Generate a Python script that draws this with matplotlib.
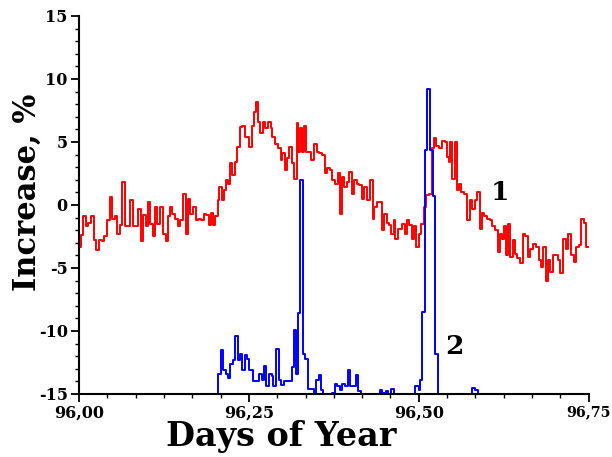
import numpy as np
import matplotlib
matplotlib.use("Agg")
from matplotlib import pyplot as plt
from matplotlib.ticker import MultipleLocator, FuncFormatter

plt.rcParams['font.family'] = 'DejaVu Serif'
plt.rcParams['font.weight'] = 'bold'
plt.rcParams['axes.unicode_minus'] = False

# step start times (minutes after day 96.00) and values, curve 1 (red)
red_min = [0, 4, 9, 15, 20, 26, 31, 37, 43, 49, 54, 60, 65, 71, 76, 81, 86, 91, 97, 103,
           109, 114, 120, 125, 131, 136, 142, 146, 151, 157, 161, 166, 172, 178, 184, 189, 193, 198, 204, 210,
           215, 221, 226, 230, 236, 241, 247, 252, 258, 264, 270, 275, 279, 285, 288, 294, 297, 303, 307, 311,
           316, 320, 324, 330, 335, 341, 346, 351, 356, 361, 366, 371, 375, 380, 384, 389, 395, 401, 406, 410,
           416, 421, 427, 431, 436, 440, 446, 451, 455, 461, 464, 468, 472, 476, 481, 487, 492, 498, 504, 509,
           515, 521, 526, 532, 537, 543, 548, 552, 558, 562, 567, 573, 578, 582, 588, 593, 599, 604, 610, 616,
           622, 625, 631, 637, 642, 646, 652, 657, 661, 667, 670, 676, 680, 685, 691, 695, 700, 706, 710, 715,
           721, 725, 730, 736, 741, 747, 752, 757, 763, 769, 775, 780, 784, 787, 791, 796, 801, 805, 810, 816,
           822, 828, 833, 839, 844, 850, 854, 859, 865, 870, 876, 882, 888, 891, 897, 901, 905, 909, 914, 919,
           924, 929, 934, 940, 946, 951, 956, 962, 968, 974, 979, 983, 989, 994, 998, 1004, 1009, 1015, 1020, 1026,
           1032, 1037, 1043, 1049, 1054, 1059, 1064, 1071, 1074, 1080]
red_val = [-3.3, -2.4, -0.9, -1.7, -1.4, -0.9, -2.8, -3.6, -2.8, -2.9, -2.5, -1.2, 0.6, -1.1, -0.9, -2.3, -1.6, 1.8, -1.7, -1.7,
           0.4, -1.7, -1.7, -0.3, -2.9, -0.8, -1.7, 0.2, -1.5, -2.5, -0.2, -1.5, -0.2, -2.3, -2.9, -0.9, -0.2, -0.7, -1.1, -1.7,
           -1.2, 0.9, -2.3, 0.5, -0.7, -0.2, -1.2, -1.1, -1.2, -0.7, -0.8, -1.6, -0.6, -1.6, -0.9, 0.4, 1.4, 0.4, 1.2, 2.0,
           1.7, 3.3, 2.4, 3.4, 4.6, 6.2, 6.3, 5.4, 5.4, 4.6, 6.3, 7.4, 8.2, 6.6, 5.7, 6.6, 6.1, 6.6, 6.1, 5.4,
           4.8, 4.5, 3.6, 4.1, 2.8, 3.7, 4.6, 3.3, 2.1, 6.5, 4.2, 6.1, 4.2, 6.3, 4.2, 4.2, 3.6, 4.8, 4.2, 4.1,
           4.0, 2.5, 2.9, 2.8, 2.0, 1.7, 2.5, -0.7, 2.2, 1.4, 1.8, 2.6, 0.9, 2.0, 1.7, 1.6, 0.5, 1.4, 0.4, 2.0,
           -1.1, -0.2, 0.2, 0.2, -2.0, -0.7, -1.4, -1.6, -2.3, -1.2, -2.7, -1.9, -1.9, -1.5, -2.3, -1.2, -1.6, -2.7, -1.7, -3.3,
           -2.3, -1.5, -0.2, 0.8, 0.9, 4.5, 5.3, 4.7, 4.5, 5.1, 5.0, 3.8, 3.4, 5.0, 2.1, 5.0, 1.2, 1.7, 1.0, 0.9,
           -1.2, 0.4, -0.3, 0.4, 1.0, -1.9, -0.6, -0.9, -1.1, -1.2, -1.7, -2.0, -3.7, -2.3, -2.7, -1.7, -4.0, -1.5, -4.1, -2.8,
           -3.9, -4.2, -4.6, -2.3, -2.5, -4.1, -3.5, -3.1, -3.3, -4.4, -4.9, -3.3, -6.0, -4.4, -5.3, -4.0, -4.0, -4.4, -5.4, -2.7,
           -3.5, -2.3, -4.0, -4.5, -3.3, -3.2, -1.1, -1.4, -3.3, -3.3]

# curve 2 (blue)
blue_min = [0, 294, 300, 305, 311, 316, 321, 326, 331, 336, 341, 346, 351, 356, 361, 368, 382, 388, 393, 397,
            402, 408, 412, 417, 423, 429, 434, 451, 455, 459, 464, 468, 474, 479, 485, 497, 502, 508, 513, 518,
            536, 542, 547, 552, 558, 564, 569, 574, 580, 586, 592, 597, 638, 642, 651, 655, 662, 667, 712, 720,
            723, 727, 733, 738, 744, 749, 755, 760, 833, 840, 845, 1080]
blue_val = [-15, -13.4, -11.5, -13.1, -13.4, -13.7, -12.6, -12.3, -10.4, -12.3, -11.8, -13.1, -11.9, -12.2, -13.1, -14.0, -13.4, -13.9, -12.8, -14.4,
            -13.4, -13.6, -14.4, -11.4, -13.9, -14.3, -14.0, -12.9, -9.9, -13.4, -8.6, 2.0, -11.8, -12.2, -14.6, -15, -13.9, -13.5, -14.7, -15,
            -14.9, -14.2, -14.4, -14.7, -14.2, -14.4, -13.1, -14.4, -14.4, -13.5, -14.8, -15, -14.7, -14.9, -14.8, -15, -14.6, -15, -14.4, -14.7,
            -13.9, -8.5, 4.4, 9.2, 4.4, 0.7, -11.8, -15, -14.5, -14.7, -15, -15]

x_ticks = [96.0, 96.25, 96.5, 96.75]
x_tick_labels = ['96,00', '96,25', '96,50', '96,75']

red_x = 96 + np.array(red_min) / 1440.0
blue_x = 96 + np.array(blue_min) / 1440.0

fig = plt.figure(figsize=(6.12, 4.57), dpi=100)
ax = fig.add_axes([0.129, 0.138, 0.833, 0.827])

ax.step(red_x, red_val, where='post', color='#ff0000', lw=1.4)
ax.step(blue_x, blue_val, where='post', color='#0000ff', lw=1.4)

ax.text(96.62, 1.0, '1', fontsize=19, fontweight='bold', ha='center', va='center')
ax.text(96.553, -11.2, '2', fontsize=19, fontweight='bold', ha='center', va='center')

ax.set_xlim(96.0, 96.75)
ax.set_ylim(-15, 15)
ax.set_xticks(x_ticks, x_tick_labels)
ax.xaxis.set_minor_locator(MultipleLocator(1 / 24))
ax.yaxis.set_major_locator(MultipleLocator(5))
ax.yaxis.set_minor_locator(MultipleLocator(1))
ax.yaxis.set_major_formatter(FuncFormatter(lambda v, p: '%d' % round(v)))

for s in ['top', 'right']:
    ax.spines[s].set_visible(False)
for s in ['left', 'bottom']:
    ax.spines[s].set_linewidth(1.5)
ax.tick_params(which='major', direction='out', length=6, width=1.3, labelsize=11.5, pad=2)
ax.tick_params(which='minor', direction='out', length=3, width=1.0)

# last x label a bit smaller so it stays inside the picture
ax.get_xticklabels()[-1].set_fontsize(10.3)

ax.set_xlabel('Days of Year', fontsize=24, fontweight='bold')
ax.xaxis.set_label_coords(0.396, -0.07)
ax.set_ylabel('Increase, %', fontsize=22, fontweight='bold')
ax.yaxis.set_label_coords(-0.07, 0.534)

fig.savefig('out.png', dpi=100)
